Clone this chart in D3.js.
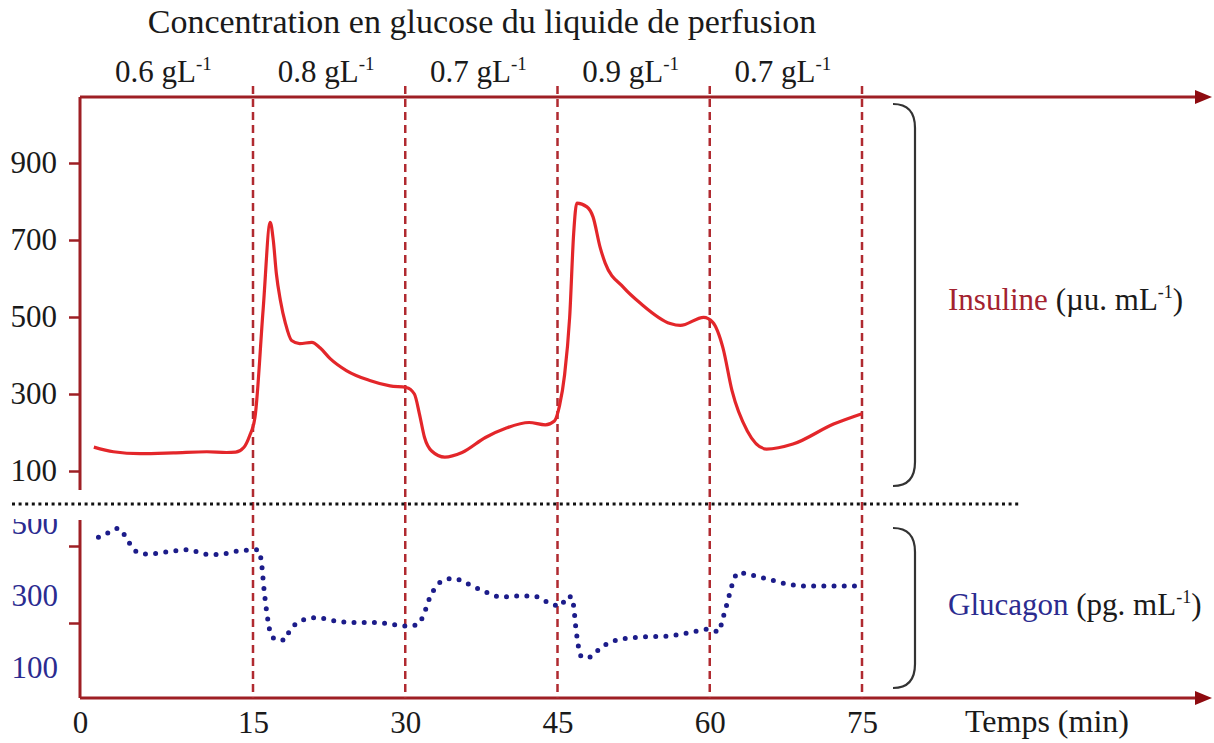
<!DOCTYPE html>
<html>
<head>
<meta charset="utf-8">
<script src="https://cdn.jsdelivr.net/npm/d3@7"></script>
<style>
  html, body { margin: 0; padding: 0; background: #fff; }
  svg { display: block; }
  text { font-family: "Liberation Serif", "Times New Roman", serif; }
</style>
</head>
<body>
<svg id="chart" width="1214" height="743"></svg>
<script>
// ---------- data ----------
const timeTicks = [0, 15, 30, 45, 60, 75];
const phaseBounds = [0, 15, 30, 45, 60, 75];
const phaseLabels = ["0.6", "0.8", "0.7", "0.9", "0.7"];
const dashedTimes = [15, 30, 45, 60, 75];

const insulinTicks = [100, 300, 500, 700, 900];
const glucagonTickMarks = [200, 400];
const glucagonTickLabels = [100, 300, 500];

const insulinTime = [1.2, 2.9, 5.2, 8.1, 11, 12.7, 13.5, 14.2, 14.7, 15.2, 16.0, 16.7, 17.0, 17.3, 17.7, 18.2, 18.8, 19.6, 20.8, 21.6, 22.6, 24.2, 26.5, 28.5, 30.1, 30.9, 31.4, 31.9, 32.6, 33.9, 35.6, 37.9, 39.9, 42.2, 43.8, 44.7, 45.2, 45.7, 46.2, 46.6, 46.9, 47.9, 48.5, 49.2, 49.7, 51.5, 53.2, 56.1, 57.1, 59.4, 60.3, 61.3, 62.2, 63.7, 65.6, 68.2, 72.2, 75];
const insulinValue = [162, 150, 145, 147, 150, 148, 149, 161, 191, 240, 520, 746, 699, 613, 543, 483, 439, 431, 434, 420, 392, 361, 335, 321, 317, 300, 248, 187, 152, 136, 148, 187, 211, 226, 220, 230, 270, 350, 500, 720, 796, 786, 760, 681, 640, 577, 535, 483, 478, 499, 486, 420, 308, 204, 157, 170, 222, 249];

const glucagonTime = [1.6, 2.5, 3.3, 4.3, 4.9, 5.7, 8.4, 9.3, 11.1, 12.0, 13.7, 15.0, 15.5, 15.8, 16.1, 16.35, 16.7, 17.3, 18.15, 18.6, 19.2, 20.2, 21.2, 23.2, 25.2, 27.3, 29.3, 30.3, 31.3, 31.8, 32.5, 33.0, 33.8, 34.8, 35.7, 37.6, 39.6, 40.6, 42.6, 43.6, 44.5, 45.4, 45.85, 46.4, 46.6, 46.8, 47.1, 47.4, 48.3, 49.1, 50.9, 52.9, 55.9, 58.0, 60.0, 60.9, 61.2, 61.75, 62.3, 62.8, 63.7, 65.7, 67.7, 69.7, 75];
const glucagonValue = [423, 435, 446, 407, 385, 379, 388, 390, 378, 378, 387, 390, 390, 364, 284, 229, 177, 156, 156, 180, 197, 210, 214, 205, 201, 201, 194, 192, 197, 221, 271, 293, 312, 316, 307, 284, 267, 270, 270, 260, 247, 245, 268, 268, 242, 189, 134, 111, 112, 132, 156, 163, 166, 175, 184, 177, 203, 255, 307, 331, 327, 314, 301, 296, 296];

// ---------- layout ----------
const svg = d3.select("#chart");
const AXIS = "#9e1f24", DASH = "#b02a30", RED = "#e3262a", BLUE = "#1c1c8a";
const LEG_RED = "#a3222f", LEG_BLUE = "#2b2b90";

const x = d3.scaleLinear().domain([0, 15, 75]).range([80, 253, 862]);
const yI = d3.scaleLinear().domain([100, 900]).range([471, 163]);
const yG = d3.scaleLinear().domain([0, 400]).range([700, 546]);
const yGLabel = d3.scaleLinear().domain([100, 500]).range([667, 523]);

const topY = 97, bottomY = 698, xEnd = 1212;

const defs = svg.append("defs");
defs.append("clipPath").attr("id", "gclip")
  .append("rect").attr("x", 0).attr("y", 519).attr("width", 80).attr("height", 200);

function arrow(y) {
  svg.append("line").attr("x1", x(0)).attr("x2", xEnd - 12).attr("y1", y).attr("y2", y)
    .attr("stroke", AXIS).attr("stroke-width", 3);
  svg.append("path")
    .attr("d", `M${xEnd},${y} L${xEnd - 17},${y - 7} L${xEnd - 17},${y + 7} Z`)
    .attr("fill", "#8e0b10");
}
arrow(topY);
arrow(bottomY);

// left axes
svg.append("line").attr("x1", x(0)).attr("x2", x(0)).attr("y1", topY).attr("y2", 490)
  .attr("stroke", AXIS).attr("stroke-width", 3);
svg.append("line").attr("x1", x(0)).attr("x2", x(0)).attr("y1", 520).attr("y2", bottomY)
  .attr("stroke", AXIS).attr("stroke-width", 3);

// insulin axis ticks
const gI = svg.append("g").attr("transform", `translate(${x(0)},0)`)
  .call(d3.axisLeft(yI).tickValues(insulinTicks).tickSize(11).tickPadding(12));
gI.select(".domain").remove();
gI.selectAll(".tick line").attr("stroke", AXIS).attr("stroke-width", 2.5);
gI.selectAll(".tick text").attr("font-family", "Liberation Serif").attr("font-size", 31).attr("fill", "#1a1a1a");

// glucagon axis ticks (marks only)
const gG = svg.append("g").attr("transform", `translate(${x(0)},0)`)
  .call(d3.axisLeft(yG).tickValues(glucagonTickMarks).tickSize(11).tickFormat(""));
gG.select(".domain").remove();
gG.selectAll(".tick line").attr("stroke", AXIS).attr("stroke-width", 2.5);

// glucagon labels
svg.append("g").attr("clip-path", "url(#gclip)")
  .selectAll("text").data(glucagonTickLabels).join("text")
  .attr("x", 58).attr("y", d => yGLabel(d)).attr("dy", "0.35em")
  .attr("text-anchor", "end").attr("font-size", 31).attr("fill", LEG_BLUE)
  .text(d => d);

// bottom axis labels
const gX = svg.append("g").attr("transform", `translate(0,${bottomY})`)
  .call(d3.axisBottom(x).tickValues(timeTicks).tickSize(0).tickPadding(13));
gX.select(".domain").remove();
gX.selectAll(".tick text").attr("font-family", "Liberation Serif").attr("font-size", 31).attr("fill", "#1a1a1a");

svg.append("text").attr("x", 965).attr("y", 732).attr("font-size", 32).attr("fill", "#1a1a1a")
  .text("Temps (min)");

// dashed verticals
svg.selectAll("line.dash").data(dashedTimes).join("line").attr("class", "dash")
  .attr("x1", d => x(d)).attr("x2", d => x(d)).attr("y1", 86).attr("y2", bottomY)
  .attr("stroke", DASH).attr("stroke-width", 2.5).attr("stroke-dasharray", "8,5");

// dotted separator
svg.append("line").attr("x1", 12).attr("x2", 1020).attr("y1", 504).attr("y2", 504)
  .attr("stroke", "#111").attr("stroke-width", 3.2).attr("stroke-dasharray", "3,3.6");

// title
svg.append("text").attr("x", 482).attr("y", 33).attr("text-anchor", "middle")
  .attr("font-size", 34).attr("fill", "#1a1a1a")
  .text("Concentration en glucose du liquide de perfusion");

// phase labels
const phases = phaseLabels.map((l, i) => ({ label: l, a: phaseBounds[i], b: phaseBounds[i + 1] }));
const pl = svg.selectAll("text.phase").data(phases).join("text").attr("class", "phase")
  .attr("x", d => (x(d.a) + x(d.b)) / 2 - 3).attr("y", 82).attr("text-anchor", "middle")
  .attr("font-size", 31).attr("fill", "#1a1a1a");
pl.append("tspan").text(d => d.label + " gL");
pl.append("tspan").attr("font-size", 19).attr("dy", -12).text("-1");

// insulin curve
const insData = insulinTime.map((t, i) => [t, insulinValue[i]]);
svg.append("path").datum(insData)
  .attr("d", d3.line().x(d => x(d[0])).y(d => yI(d[1])).curve(d3.curveMonotoneX))
  .attr("fill", "none").attr("stroke", RED).attr("stroke-width", 3.2).attr("stroke-linejoin", "round");

// glucagon dotted curve
const gluData = glucagonTime.map((t, i) => [t, glucagonValue[i]]);
svg.append("path").datum(gluData)
  .attr("d", d3.line().x(d => x(d[0])).y(d => yG(d[1])).curve(d3.curveMonotoneX))
  .attr("fill", "none").attr("stroke", BLUE).attr("stroke-width", 5)
  .attr("stroke-linecap", "round").attr("stroke-dasharray", "0,10.2");

// brackets
function bracket(y0, y1) {
  const xa = 893, xb = 915, r = 24;
  svg.append("path")
    .attr("d", `M${xa},${y0} Q${xb},${y0} ${xb},${y0 + r} L${xb},${y1 - r} Q${xb},${y1} ${xa},${y1}`)
    .attr("fill", "none").attr("stroke", "#333").attr("stroke-width", 2.2);
}
bracket(104, 486);
bracket(528, 688);

// legends
function legend(yb, name, color, unit) {
  const t = svg.append("text").attr("x", 948).attr("y", yb).attr("font-size", 31).attr("fill", "#1a1a1a");
  t.append("tspan").attr("fill", color).text(name);
  t.append("tspan").text(" (" + unit);
  t.append("tspan").attr("font-size", 18).attr("dy", -12).text("-1");
  t.append("tspan").attr("dy", 12).text(")");
}
legend(310, "Insuline", LEG_RED, "µu. mL");
legend(615, "Glucagon", LEG_BLUE, "pg. mL");
</script>
</body>
</html>
